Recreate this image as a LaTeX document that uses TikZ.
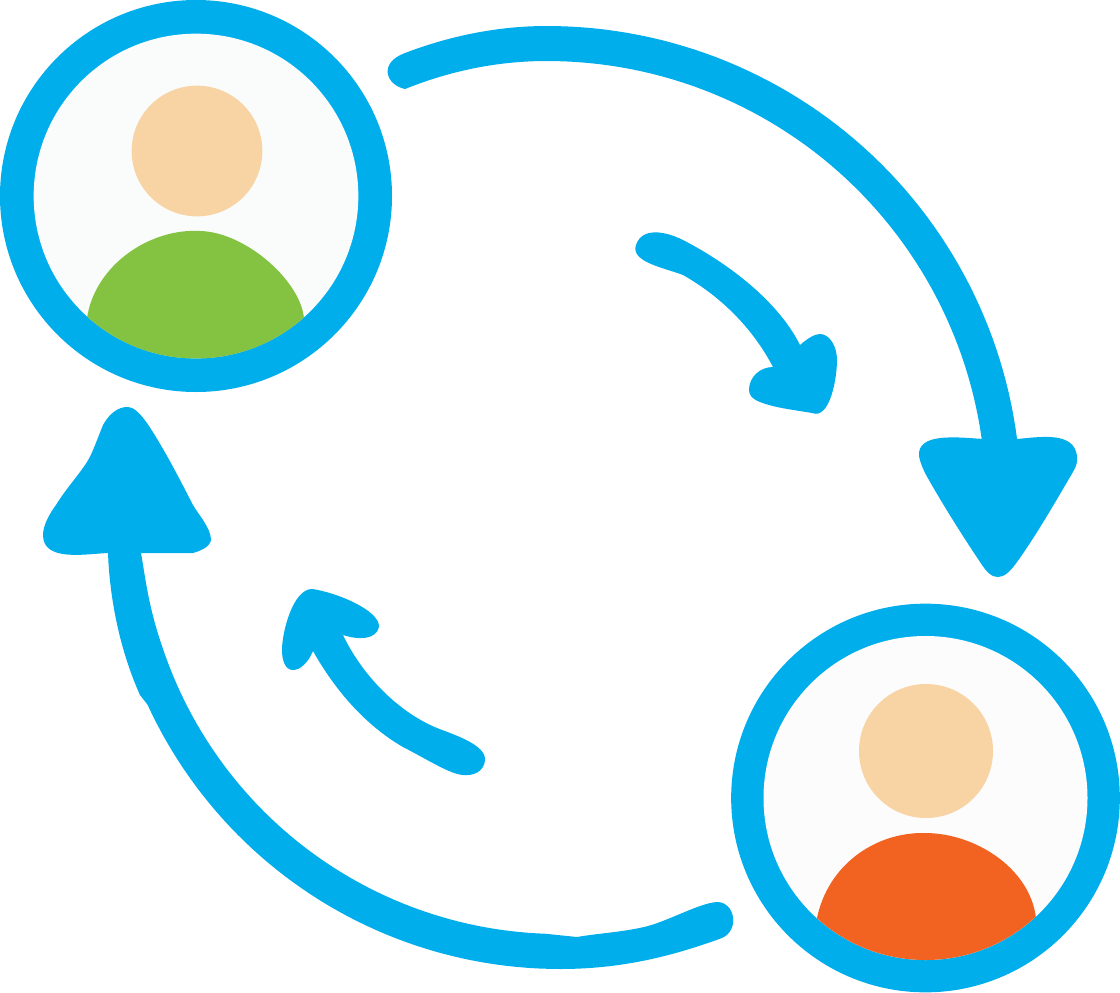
\documentclass[tikz,border=0pt]{standalone}
\definecolor{sky}{HTML}{00AEEC}
\definecolor{skin}{HTML}{F8D4A5}
\definecolor{leaf}{HTML}{83C341}
\definecolor{rust}{HTML}{F26322}
\definecolor{faceA}{HTML}{FAFCFB}
\definecolor{faceB}{HTML}{FCFCFC}
\tikzset{ring/.style={circle,draw=none,fill=sky,inner sep=0pt,minimum size=#1},
 face/.style={circle,draw=none,inner sep=0pt,minimum size=#1},
 hd/.style={circle,fill=skin,draw=none,inner sep=0pt,minimum size=#1},
 arrowshape/.style={fill=sky,draw=none}}
\begin{document}
\begin{tikzpicture}[x=0.75pt,y=-0.75pt]
\useasboundingbox (0,0) rectangle (1120,992);
\fill[white] (0,0) rectangle (1120,992);
% top-left person
\node[ring=294pt] (ringA) at (196,196) {};
\node[face=243.5pt,fill=faceA] (faceAn) at (196,196) {};
\node[hd=98pt] (headA) at (197,151) {};
\begin{scope}
\clip (196,196) circle [radius=162.5];
\fill[leaf] (87,318) .. controls (95,265) and (150,228) .. (200,231)
 .. controls (245,232) and (300,280) .. (304,318) -- (304,370) -- (87,370) -- cycle;
\end{scope}
% bottom-right person
\node[ring=291.5pt] (ringB) at (925.5,798) {};
\node[face=243pt,fill=faceB] (faceBn) at (925.5,798) {};
\node[hd=100.5pt] (headB) at (926,751) {};
\begin{scope}
\clip (925.5,798) circle [radius=162];
\fill[rust] (817,918) .. controls (828,865) and (875,832) .. (925,833)
 .. controls (975,833) and (1030,868) .. (1036,918) -- (1036,970) -- (817,970) -- cycle;
\end{scope}
% big arrow top right
\fill[arrowshape] (405,89)
 .. controls (450,71) and (497,61) .. (547,61)
 -- plot[domain=90:8,samples=60,variable=\t] ({547+439*cos(\t)},{500-439*sin(\t)})
 .. controls (955,437) and (917,433) .. (919,456)
 .. controls (920,462) and (922,466) .. (925,473)
 .. controls (940,500) and (960,532) .. (980,562)
 .. controls (987,573) and (992,577) .. (998,577)
 .. controls (1004,577) and (1010,572) .. (1017,562)
 .. controls (1035,537) and (1053,506) .. (1070,477)
 .. controls (1076,467) and (1078,463) .. (1077,456)
 .. controls (1074,431) and (1040,437) .. (1017,439)
 -- plot[domain=7.4:90,samples=60,variable=\t] ({547+474*cos(\t)},{500-474*sin(\t)})
 .. controls (495,26) and (447,37) .. (405,53)
 .. controls (378,63) and (386,85) .. (405,89) -- cycle;
% big arrow bottom left
\fill[arrowshape] (108,553)
 .. controls (85,554) and (43,562) .. (43,535)
 .. controls (43,525) and (50,513) .. (56,505)
 .. controls (65,490) and (78,476) .. (87,462)
 .. controls (92,454) and (95,445) .. (103,425)
 .. controls (109,414) and (118,407) .. (127,407)
 .. controls (135,407) and (141,415) .. (147,423)
 .. controls (165,450) and (180,480) .. (193,505)
 .. controls (198,514) and (211,528) .. (211,540)
 .. controls (210,547) and (200,551) .. (193,553)
 -- (141,553)
 .. controls (145,575) and (148,605) .. (161.5,644.5)
 -- plot[domain=162:92,samples=60,variable=\t] ({560+419*cos(\t)},{515+419*sin(\t)})
 -- (577,937)
 .. controls (600,933) and (625,932) .. (648,926)
 .. controls (670,920) and (700,903) .. (717,902)
 .. controls (735,902) and (740,930) .. (722,938)
 .. controls (670,957) and (620,969) .. (560,969)
 -- plot[domain=90:155.3,samples=50,variable=\t] ({560+454*cos(\t)},{515+454*sin(\t)})
 -- (140,695)
 .. controls (122,655) and (110,605) .. (108,553) -- cycle;
% small arrow upper
\fill[arrowshape] (800,345)
 .. controls (808,338) and (815,334) .. (820,334)
 .. controls (830,334) and (837,347) .. (837,360)
 .. controls (837,378) and (830,420) .. (812,413)
 .. controls (795,410) and (775,408) .. (760,402)
 .. controls (752,399) and (749,395) .. (749,390)
 .. controls (749,377) and (760,367) .. (773,367)
 .. controls (752,327) and (720,296) .. (683,275)
 .. controls (665,268) and (630,262) .. (636,245)
 .. controls (642,227) and (665,231) .. (683,240)
 .. controls (735,267) and (780,305) .. (800,345) -- cycle;
% small arrow lower
\fill[arrowshape] (313,651)
 .. controls (308,663) and (300,670) .. (293,670)
 .. controls (285,670) and (282,660) .. (282,650)
 .. controls (282,632) and (293,589) .. (312,589)
 .. controls (335,592) and (380,610) .. (379,627)
 .. controls (376,640) and (358,640) .. (343,635)
 .. controls (362,675) and (398,712) .. (437,728)
 .. controls (455,735) and (486,745) .. (485,760)
 .. controls (484,772) and (473,776) .. (463,775)
 .. controls (450,774) and (430,761) .. (403,747)
 .. controls (365,725) and (335,690) .. (313,651) -- cycle;
\end{tikzpicture}
\end{document}
